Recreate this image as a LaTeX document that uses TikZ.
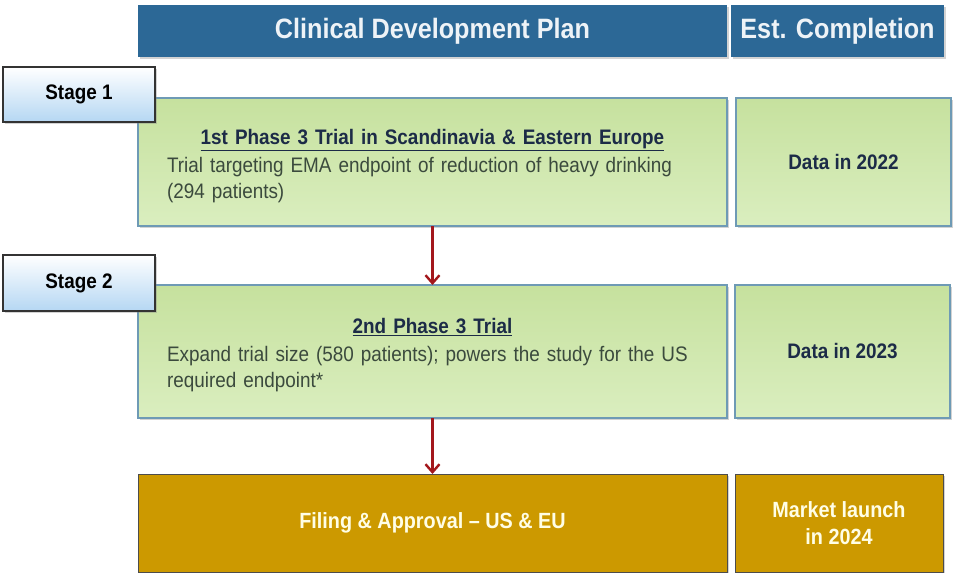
\documentclass[tikz,border=0pt]{standalone}
\usepackage{fontspec}
\setmainfont{Liberation Sans}[FakeStretch=0.9]
\usetikzlibrary{shadows,arrows.meta}
\definecolor{headblue}{HTML}{2C6896}
\definecolor{boxgreen}{HTML}{C6E19E}
\definecolor{boxgreenlt}{HTML}{DAEEBF}
\definecolor{greenedge}{HTML}{6E9AB5}
\definecolor{stageblue}{HTML}{B5D7F3}
\definecolor{gold}{HTML}{CC9900}
\definecolor{navytext}{HTML}{1C2B47}
\definecolor{bodytext}{HTML}{3B4A3D}
\definecolor{arrowred}{HTML}{A3171C}
\begin{document}
\begin{tikzpicture}[x=1pt,y=-1pt,
    cell/.style={anchor=north west,rectangle,inner sep=0pt,outer sep=0pt,
      drop shadow={opacity=0.35,shadow xshift=2pt,shadow yshift=-2pt}},
    headcell/.style={cell,fill=headblue,text=white!92!headblue,
      font=\bfseries\fontsize{28}{32}\selectfont},
    greencell/.style={cell,draw=greenedge,line width=1.2pt,
      top color=boxgreen,bottom color=boxgreenlt},
    goldcell/.style={cell,fill=gold,draw=black!70,line width=1pt,
      text=white!90!yellow,font=\bfseries\fontsize{22}{27}\selectfont,align=center},
    stagecell/.style={cell,draw=black!80,line width=1.2pt,top color=white,
      bottom color=stageblue,font=\bfseries\fontsize{21}{24}\selectfont},
    flow/.style={arrowred,line width=2.4pt,-{Straight Barb[length=8pt,width=14pt]}}]
  \useasboundingbox (0,0) rectangle (954,573);
  % header row
  \node[headcell,minimum width=589pt,minimum height=52pt] (plan) at (138,5)
    {Clinical Development Plan};
  \node[headcell,minimum width=213pt,minimum height=52pt] (est) at (731,5)
    {Est. Completion};
  % stage 1
  \node[greencell,minimum width=589pt,minimum height=128pt,text width=531pt,
    font=\fontsize{21}{26}\selectfont,text=bodytext] (trial1) at (138,98)
    {{\centering\rule{0pt}{24pt}\color{navytext}\bfseries\underline{1st Phase 3 Trial in Scandinavia \& Eastern Europe}\par}
     \vspace{2pt}\raggedright\mbox{Trial targeting EMA endpoint of reduction of heavy drinking}\\(294 patients)};
  \node[greencell,minimum width=215pt,minimum height=128pt,text=navytext,
    font=\bfseries\fontsize{21}{26}\selectfont] (data1) at (736,98) {Data in 2022};
  \node[stagecell,minimum width=152pt,minimum height=55pt] (stage1) at (3,67) {Stage 1};
  % stage 2
  \node[greencell,minimum width=589pt,minimum height=133pt,text width=531pt,
    font=\fontsize{21}{26}\selectfont,text=bodytext] (trial2) at (138,285)
    {{\centering\rule{0pt}{22pt}\color{navytext}\bfseries\underline{2nd Phase 3 Trial}\par}
     \vspace{2pt}\raggedright\mbox{Expand trial size (580 patients); powers the study for the US}\\required endpoint*};
  \node[greencell,minimum width=215pt,minimum height=133pt,text=navytext,
    font=\bfseries\fontsize{21}{26}\selectfont] (data2) at (735,285) {Data in 2023};
  \node[stagecell,minimum width=152pt,minimum height=56pt] (stage2) at (3,255) {Stage 2};
  % filing
  \node[goldcell,minimum width=589pt,minimum height=98pt] (filing) at (138,474)
    {Filing \& Approval -- US \& EU};
  \node[goldcell,minimum width=208pt,minimum height=98pt] (launch) at (735,474)
    {Market launch\\in 2024};
  \draw[flow] (trial1.south) -- (trial2.north);
  \draw[flow] (trial2.south) -- (filing.north);
\end{tikzpicture}
\end{document}
